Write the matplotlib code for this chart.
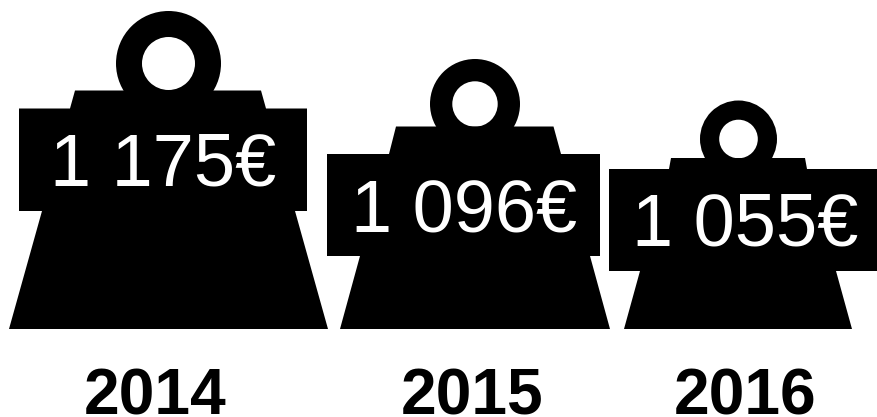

# Weights pictogram, one weight per year
import matplotlib
matplotlib.use("Agg")
import matplotlib.pyplot as plt
from matplotlib.patches import Circle, Polygon

## Data
years = ["2014", "2015", "2016"]
values = ["1 175€", "1 096€", "1 055€"]

## Layout of the three weights, in pixels of the picture
ring_x = [168.5, 475, 738.5]
ring_y = [63.5, 104, 139]
ring_outer = [52.5, 45, 38.5]
ring_inner = [26.5, 22.7, 19.3]
# neck: top y, then x left/right at the top and at the label's top edge
neck_top = [90.5, 126.5, 158]
neck_top_l = [75, 396, 671]
neck_top_r = [261, 553.5, 805]
neck_low_l = [70, 389, 669]
neck_low_r = [266, 561, 807]
# label block
box_l = [19, 327, 609]
box_r = [307, 600, 878]
box_top = [108.5, 154, 169]
box_bottom = [211, 256, 271]
# foot of the weight
foot_top_l = [42, 360, 640]
foot_top_r = [295, 590, 836]
foot_low_l = [9, 340, 624]
foot_low_r = [328, 610, 852]
base_y = 329
# texts
value_x = [163, 464, 745]
value_y = [185, 232, 245]
year_x = [155.5, 472, 745]
year_y = 414.5

fig = plt.figure(figsize=(8.78, 4.17), dpi=100)
ax = fig.add_axes([0, 0, 1, 1])
ax.set_xlim(0, 878)
ax.set_ylim(417, 0)
ax.axis("off")

for i in range(len(years)):
    ax.add_patch(Circle((ring_x[i], ring_y[i]), ring_outer[i], color="black", lw=0, zorder=1))
    ax.add_patch(Circle((ring_x[i], ring_y[i]), ring_inner[i], color="white", lw=0, zorder=2))
    # whole body as one outline, so no seams show between its parts
    body = [(neck_top_l[i], neck_top[i]), (neck_top_r[i], neck_top[i]),
            (neck_low_r[i], box_top[i]), (box_r[i], box_top[i]),
            (box_r[i], box_bottom[i]), (foot_top_r[i], box_bottom[i]),
            (foot_low_r[i], base_y), (foot_low_l[i], base_y),
            (foot_top_l[i], box_bottom[i]), (box_l[i], box_bottom[i]),
            (box_l[i], box_top[i]), (neck_low_l[i], box_top[i])]
    ax.add_patch(Polygon(body, closed=True, color="black", lw=0, zorder=3))
    ax.text(value_x[i], value_y[i], values[i], color="white", fontsize=53.3,
            family="Liberation Sans", ha="center", va="baseline", zorder=4)
    ax.text(year_x[i], year_y, years[i], color="black", fontsize=46.2, fontweight="bold",
            family="Liberation Sans", ha="center", va="baseline", zorder=4)

plt.savefig("out.png", dpi=100)
